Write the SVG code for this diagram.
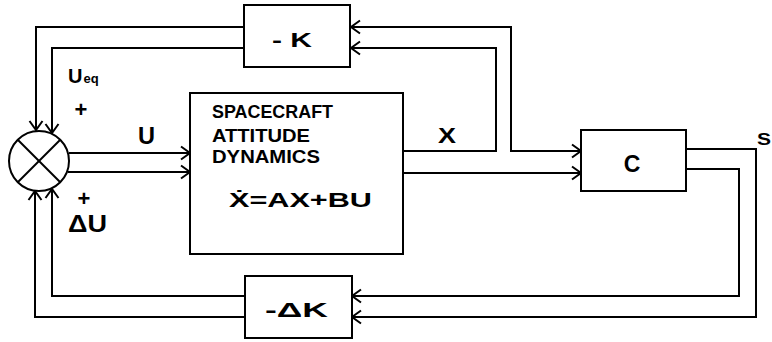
<svg xmlns="http://www.w3.org/2000/svg" width="772" height="342" viewBox="0 0 772 342">
<style>
.ln{fill:none;stroke:#000;stroke-width:2;stroke-linejoin:miter}
.bx{fill:#fff;stroke:#000;stroke-width:2}
.t{font-family:"Liberation Sans","DejaVu Sans",Arial,sans-serif;font-weight:bold;fill:#000}
</style>
<defs>
<marker id="arr" viewBox="-11 -8 13 16" refX="0" refY="0" markerWidth="13" markerHeight="16" markerUnits="userSpaceOnUse" orient="auto-start-reverse">
<path d="M-9,-6.5 L0,0 L-9,6.5" fill="none" stroke="#000" stroke-width="2"/>
</marker>
</defs>
<rect width="772" height="342" fill="#fff"/>
<g id="connectors">
<polyline class="ln" points="244,27 36,27 36,130" marker-end="url(#arr)"/>
<polyline class="ln" points="244,48 52,48 52,133" marker-end="url(#arr)"/>
<polyline class="ln" points="69,153 190,153" marker-end="url(#arr)"/>
<polyline class="ln" points="68,172 190,172" marker-end="url(#arr)"/>
<polyline class="ln" points="403,151 496,151 496,48 351,48" marker-end="url(#arr)"/>
<polyline class="ln" points="403,173 581,173" marker-end="url(#arr)"/>
<polyline class="ln" points="351,27 511,27 511,151 581,151" marker-start="url(#arr)" marker-end="url(#arr)"/>
<polyline class="ln" points="686,149 756,149 756,317 352,317" marker-end="url(#arr)"/>
<polyline class="ln" points="686,169 739,169 739,296 352,296" marker-end="url(#arr)"/>
<polyline class="ln" points="245,296 52,296 52,189" marker-end="url(#arr)"/>
<polyline class="ln" points="245,317 35,317 35,191" marker-end="url(#arr)"/>
</g>
<g id="sum">
<circle cx="39" cy="161" r="30" class="bx"/>
<line class="ln" x1="18" y1="140" x2="60" y2="182"/>
<line class="ln" x1="60" y1="140" x2="18" y2="182"/>
</g>
<g id="gainK">
<rect x="244" y="5" width="106" height="62" class="bx"/>
<text class="t" x="272" y="47" font-size="21" textLength="40" lengthAdjust="spacingAndGlyphs">- K</text>
</g>
<g id="dynamics">
<rect x="190" y="93" width="213" height="161" class="bx"/>
<text class="t" x="212" y="118" font-size="18" textLength="121" lengthAdjust="spacingAndGlyphs">SPACECRAFT</text>
<text class="t" x="212" y="142" font-size="18" textLength="98" lengthAdjust="spacingAndGlyphs">ATTITUDE</text>
<text class="t" x="212" y="163" font-size="18" textLength="108" lengthAdjust="spacingAndGlyphs">DYNAMICS</text>
<text class="t" x="229" y="207" font-size="20" textLength="143" lengthAdjust="spacingAndGlyphs">Ẋ=AX+BU</text>
</g>
<g id="gainC">
<rect x="581" y="130" width="105" height="61" class="bx"/>
<text class="t" x="632" y="172" font-size="23" text-anchor="middle">C</text>
</g>
<g id="gainDK">
<rect x="245" y="276" width="107" height="62" class="bx"/>
<text class="t" x="265" y="317" font-size="21" textLength="63" lengthAdjust="spacingAndGlyphs">-ΔK</text>
</g>
<g id="labels">
<text class="t" x="68" y="83" font-size="20">U<tspan font-size="13" dx="1">eq</tspan></text>
<text class="t" x="81" y="117" font-size="22" text-anchor="middle">+</text>
<text class="t" x="138" y="144" font-size="24" textLength="17" lengthAdjust="spacingAndGlyphs">U</text>
<text class="t" x="84" y="206" font-size="22" text-anchor="middle">+</text>
<text class="t" x="68" y="232" font-size="23" textLength="39" lengthAdjust="spacingAndGlyphs">ΔU</text>
<text class="t" x="438" y="143" font-size="22" textLength="18" lengthAdjust="spacingAndGlyphs">X</text>
<text class="t" x="757" y="145" font-size="17" textLength="14" lengthAdjust="spacingAndGlyphs">S</text>
</g>
</svg>
